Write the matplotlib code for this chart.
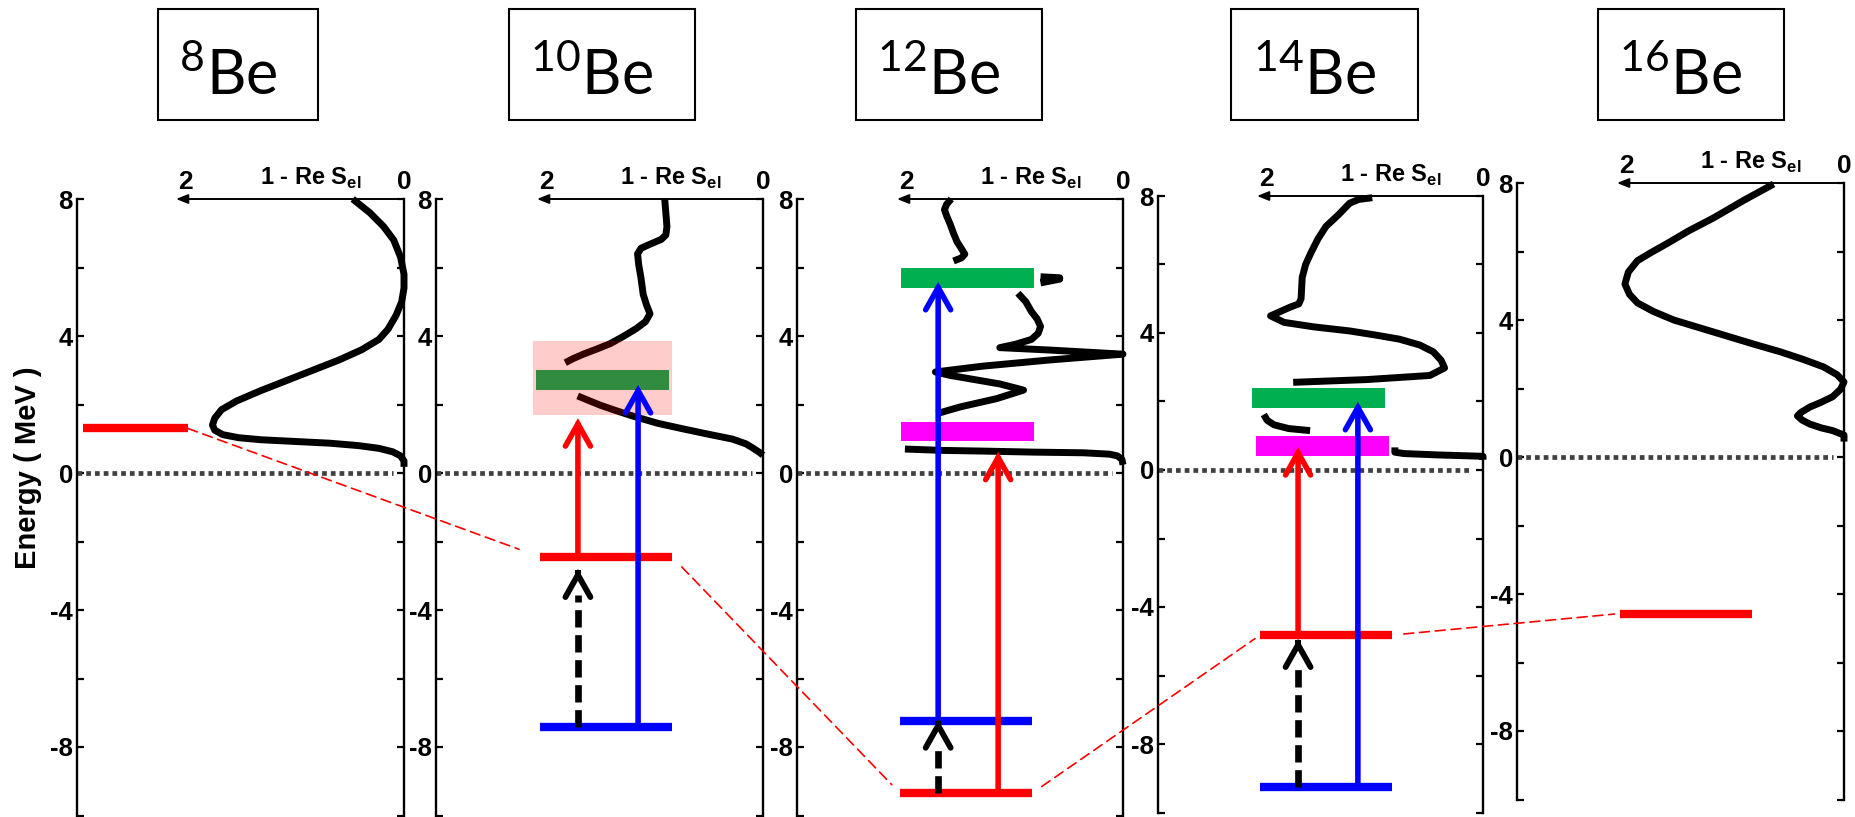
import numpy as np
import matplotlib
matplotlib.use("Agg")
import matplotlib.pyplot as plt
from matplotlib.patches import Rectangle, ConnectionPatch

plt.rcParams['font.family'] = ['Liberation Sans', 'DejaVu Sans']
plt.rcParams['mathtext.fontset'] = 'custom'
plt.rcParams['mathtext.rm'] = 'Lato'
plt.rcParams['mathtext.bf'] = 'Liberation Sans:bold'

nan = np.nan
# ---------------- data ----------------
isotope_mass = ["8", "10", "12", "14", "16"]
element = "Be"
energy_label = "Energy ( MeV )"
energy_tick_values = [8, 4, 0, -4, -8]
energy_tick_labels = ["8", "4", "0", "-4", "-8"]
s_axis_title = r"1 - Re S$_{\mathbf{el}}$"
s_axis_end_labels = ["2", "0"]

# level energies (MeV), one entry per nucleus (None = absent)
red_level = [1.30, -2.45, -9.35, -4.82, -4.57]
blue_level = [None, -7.42, -7.24, -9.25, None]
green_level = [None, 2.72, 5.69, 2.10, None]
magenta_level = [None, None, 1.21, 0.69, None]
pink_band_lo = [None, 1.69, None, None, None]
pink_band_hi = [None, 3.85, None, None, None]
# transition arrows: tip energies
red_arrow_top = [None, 1.60, 0.62, 0.67, None]
blue_arrow_top = [None, 2.57, 5.58, 1.99, None]
dashed_arrow_from = [None, -7.42, -9.35, -9.25, None]
dashed_arrow_top = [None, -2.80, -7.20, -4.93, None]

# 1 - Re S_el curves (value, energy); nan = hidden gap
s_be8 = [0.45, 0.30, 0.18, 0.09, 0.03, 0.00, 0.00, 0.02, 0.07, 0.14, 0.22, 0.37, 0.57, 0.80,
         1.03, 1.26, 1.47, 1.60, 1.66, 1.68, 1.66, 1.59, 1.45, 1.25, 0.95, 0.65, 0.40, 0.22,
         0.10, 0.03, 0.00, 0.00]
e_be8 = [8.0, 7.6, 7.2, 6.8, 6.3, 5.8, 5.4, 5.0, 4.6, 4.2, 3.9, 3.6, 3.3, 3.0,
         2.7, 2.4, 2.1, 1.85, 1.6, 1.4, 1.25, 1.12, 1.03, 0.97, 0.92, 0.87, 0.80, 0.72,
         0.62, 0.50, 0.35, 0.18]

s_be10 = [0.87, 0.86, 0.85, 0.86, 0.90, 1.00, 1.08, 1.11, 1.10, 1.08, 1.06, 1.03, 1.00, 1.04,
          1.12, 1.23, 1.35, 1.47, 1.59, 1.68, 1.75, nan,
          1.64, 1.53, 1.44, 1.30, 1.15, 0.93, 0.71, 0.48, 0.27, 0.15, 0.09, 0.03, 0.00]
e_be10 = [8.0, 7.6, 7.19, 6.95, 6.82, 6.68, 6.56, 6.40, 6.08, 5.7, 5.21, 4.9, 4.65, 4.42,
          4.22, 4.0, 3.78, 3.62, 3.47, 3.34, 3.22, nan,
          2.25, 2.1, 1.98, 1.82, 1.66, 1.45, 1.29, 1.13, 0.99, 0.85, 0.73, 0.60, 0.52]

s_be12 = [1.52, 1.56, 1.58, 1.56, 1.53, 1.50, 1.47, 1.43, 1.40, 1.43, 1.50, nan,
          0.73, 0.56, 0.56, 0.73, nan,
          0.93, 0.86, 0.81, 0.76, 0.73, 0.75, 0.81, 0.95, 1.09, 0.65, 0.00, 0.65, 1.24, 1.66,
          1.53, 1.09, 0.88, 1.12, 1.44, 1.65, nan,
          1.93, 1.60, 1.24, 0.80, 0.35, 0.12, 0.05, 0.01, 0.00]
e_be12 = [8.0, 7.85, 7.69, 7.5, 7.27, 7.0, 6.76, 6.55, 6.39, 6.28, 6.19, nan,
          5.73, 5.70, 5.66, 5.55, nan,
          5.25, 5.0, 4.71, 4.5, 4.28, 4.08, 3.9, 3.76, 3.66, 3.59, 3.47, 3.30, 3.12, 2.95,
          2.85, 2.60, 2.42, 2.17, 1.93, 1.73, nan,
          0.70, 0.66, 0.64, 0.61, 0.59, 0.55, 0.50, 0.40, 0.24]

s_be14 = [0.98, 1.10, 1.18, 1.28, 1.39, 1.46, 1.52, 1.57, 1.60, 1.61, 1.63, 1.71, 1.88, 1.76,
          1.50, 1.18, 0.95, 0.74, 0.56, 0.44, 0.37, 0.34, 0.47, 1.03, 1.68, nan,
          1.94, 1.91, 1.85, 1.72, 1.53, nan,
          0.78, 0.78, 0.70, 0.40, 0.10, 0.00, 0.00]
e_be14 = [7.95, 7.90, 7.79, 7.45, 7.11, 6.75, 6.36, 6.0, 5.62, 5.0, 4.85, 4.75, 4.5, 4.31,
          4.18, 4.06, 3.94, 3.82, 3.65, 3.45, 3.2, 2.98, 2.76, 2.64, 2.56, nan,
          1.62, 1.45, 1.32, 1.21, 1.15, nan,
          0.66, 0.52, 0.48, 0.44, 0.41, 0.40, 0.30]

s_be16 = [0.62, 0.88, 1.15, 1.37, 1.56, 1.71, 1.82, 1.90, 1.93, 1.89, 1.82, 1.68, 1.50, 1.25,
          1.00, 0.78, 0.56, 0.36, 0.18, 0.06, 0.00, 0.03, 0.10, 0.20, 0.30, 0.38, 0.41, 0.37,
          0.30, 0.20, 0.10, 0.00, 0.00]
e_be16 = [7.97, 7.5, 6.98, 6.6, 6.23, 5.95, 5.73, 5.4, 5.05, 4.75, 4.5, 4.25, 4.0, 3.75,
          3.5, 3.28, 3.07, 2.85, 2.63, 2.4, 2.19, 1.98, 1.76, 1.6, 1.46, 1.3, 1.2, 1.08,
          0.96, 0.85, 0.77, 0.64, 0.45]

curves_s = [s_be8, s_be10, s_be12, s_be14, s_be16]
curves_e = [e_be8, e_be10, e_be12, e_be14, e_be16]

# ---------------- layout (pixels) ----------------
W, H, DPI = 1856, 817, 100
PPM = 34.25                      # pixels per MeV
# (energy axis x, right axis x, x of S=2, y of E=0)
panel_px = [(77, 404, 176, 473), (436, 763, 537, 473), (797, 1123, 897, 473),
            (1158, 1483, 1257, 470), (1517, 1844, 1617, 457)]
box_px = [(158, 318), (509, 695), (856, 1042), (1231, 1418), (1598, 1784)]
BOX_TOP, BOX_BOT = 9, 120
# horizontal extents (fraction of panel width)
line_span = [(0.018, 0.339), (0.318, 0.722), (0.316, 0.721), (0.314, 0.720), (0.315, 0.719)]
rect_span = [None, (0.306, 0.713), (0.319, 0.727), (0.289, 0.698), None]
mag_span = [None, None, (0.319, 0.727), (0.302, 0.711), None]
pink_span = [None, (0.297, 0.722), None, None, None]
red_arrow_x = [None, 0.434, 0.617, 0.431, None]
blue_arrow_x = [None, 0.618, 0.433, 0.615, None]
dashed_arrow_x = [None, 0.434, 0.433, 0.431, None]

RED, BLUE, GREEN, MAGENTA = '#FF0000', '#0000FF', '#00B050', '#FF00FF'
BOLD = dict(fontweight='bold')

fig = plt.figure(figsize=(W / DPI, H / DPI), dpi=DPI)

head = '->,head_length=0.8,head_width=0.45'


def solid_arrow(ax, x, y0, y1, color):
    ax.annotate('', xy=(x, y1), xytext=(x, y0),
                arrowprops=dict(arrowstyle=head, color=color, lw=4, shrinkA=0, shrinkB=0,
                                mutation_scale=20, capstyle='round', joinstyle='miter'),
                zorder=4, annotation_clip=False)


def dashed_arrow(ax, x, y0, y1):
    ax.plot([x, x], [y0, y1 - 0.75], color='k', lw=4.8, ls=(0, (2.6, 1.15)),
            dash_capstyle='butt', zorder=4)
    ax.annotate('', xy=(x, y1), xytext=(x, y1 - 0.05),
                arrowprops=dict(arrowstyle=head, color='k', lw=4.2, shrinkA=0, shrinkB=0,
                                mutation_scale=20, capstyle='round', joinstyle='miter'),
                zorder=4, annotation_clip=False)


axes = []
tick_vals = list(range(-10, 9, 2))
for i, (xl, xr, xs, y0) in enumerate(panel_px):
    ybot = y0 + 10 * PPM
    b = 1 - ybot / H
    h = 18 * PPM / H
    axS = fig.add_axes([xs / W, b, (xr - xs) / W, h], zorder=1)
    axS.set_xlim(2, 0)
    axS.set_ylim(-10, 8)
    axS.axis('off')
    ax = fig.add_axes([xl / W, b, (xr - xl) / W, h], zorder=2)
    ax.patch.set_visible(False)
    ax.set_xlim(0, 1)
    ax.set_ylim(-10, 8)
    axes.append(ax)

    # axes styling
    for s in ['top', 'bottom']:
        ax.spines[s].set_visible(False)
    for s in ['left', 'right']:
        ax.spines[s].set_linewidth(1.7)
    ax.set_xticks([])
    ax.set_yticks(tick_vals)
    ax.set_yticklabels([energy_tick_labels[energy_tick_values.index(v)]
                        if v in energy_tick_values else '' for v in tick_vals],
                       fontsize=18.5, fontweight='bold')
    ax.tick_params(axis='y', direction='in', length=5, width=1.6, left=True, right=True,
                   labelleft=True, labelright=False, pad=3)

    # S-matrix axis (top arrow + labels)
    axS.annotate('', xy=(2, 8), xytext=(0, 8),
                 arrowprops=dict(arrowstyle='-|>,head_length=0.5,head_width=0.2', lw=1.4,
                                 color='k', shrinkA=0, shrinkB=0, mutation_scale=14),
                 annotation_clip=False)
    axS.annotate(s_axis_end_labels[0], xy=(1.92, 8), xytext=(0, 3.5), textcoords='offset points',
                 ha='center', va='bottom', fontsize=19, annotation_clip=False, **BOLD)
    axS.annotate(s_axis_end_labels[1], xy=(0, 8), xytext=(0, 3.5), textcoords='offset points',
                 ha='center', va='bottom', fontsize=19, annotation_clip=False, **BOLD)
    axS.annotate(s_axis_title, xy=(0.82, 8), xytext=(0, 5.5), textcoords='offset points',
                 ha='center', va='bottom', fontsize=17, annotation_clip=False, **BOLD)

    # curve
    axS.plot(curves_s[i], curves_e[i], color='k', lw=5, solid_capstyle='butt',
             solid_joinstyle='round', clip_on=False, zorder=2)

    # zero line
    ax.plot([0, 0.965], [0, 0], color='#404040', lw=3.4, ls=(0, (1, 0.85)),
            dash_capstyle='butt', zorder=2)

    # levels
    x0, x1 = line_span[i]
    ax.plot([x0, x1], [red_level[i]] * 2, color=RED, lw=6, solid_capstyle='butt', zorder=3)
    if blue_level[i] is not None:
        ax.plot([x0, x1], [blue_level[i]] * 2, color=BLUE, lw=6, solid_capstyle='butt', zorder=3)
    if green_level[i] is not None:
        g0, g1 = rect_span[i]
        ax.add_patch(Rectangle((g0, green_level[i] - 0.29), g1 - g0, 0.58, facecolor=GREEN,
                               edgecolor='none', zorder=3))
    if magenta_level[i] is not None:
        m0, m1 = mag_span[i]
        ax.add_patch(Rectangle((m0, magenta_level[i] - 0.29), m1 - m0, 0.58, facecolor=MAGENTA,
                               edgecolor='none', zorder=3))
    if pink_band_lo[i] is not None:
        p0, p1 = pink_span[i]
        ax.add_patch(Rectangle((p0, pink_band_lo[i]), p1 - p0, pink_band_hi[i] - pink_band_lo[i],
                               facecolor=RED, alpha=0.2, edgecolor='none', zorder=3.5))

    # transitions
    if red_arrow_top[i] is not None:
        solid_arrow(ax, red_arrow_x[i], red_level[i], red_arrow_top[i], RED)
        solid_arrow(ax, blue_arrow_x[i], blue_level[i], blue_arrow_top[i], BLUE)
        dashed_arrow(ax, dashed_arrow_x[i], dashed_arrow_from[i], dashed_arrow_top[i])

# energy label
fig.text(28 / W, 1 - 468 / H, energy_label, rotation=90, ha='center', va='center',
         fontsize=21, **BOLD)

# dashed red connectors between red levels
shrinks = [(0, 16), (10, 8.5), (8.5, 4.5), (8.5, 4)]
for i in range(4):
    con = ConnectionPatch(xyA=(line_span[i][1], red_level[i]), coordsA=axes[i].transData,
                          xyB=(line_span[i + 1][0], red_level[i + 1]), coordsB=axes[i + 1].transData,
                          color=RED, lw=1.2, ls=(0, (6, 3.5)), shrinkA=shrinks[i][0],
                          shrinkB=shrinks[i][1], zorder=5)
    fig.add_artist(con)

# nucleus boxes
for (bx0, bx1), mass in zip(box_px, isotope_mass):
    fig.add_artist(Rectangle((bx0 / W, 1 - BOX_BOT / H), (bx1 - bx0) / W, (BOX_BOT - BOX_TOP) / H,
                             transform=fig.transFigure, fill=False, lw=1.5, edgecolor='k'))
    fig.text(((bx0 + bx1) / 2 - 10) / W, 1 - 95 / H, r'$^{\mathrm{%s}}$%s' % (mass, element),
             ha='center', va='baseline', fontsize=44, family='Lato')

fig.savefig('out.png', dpi=DPI)
